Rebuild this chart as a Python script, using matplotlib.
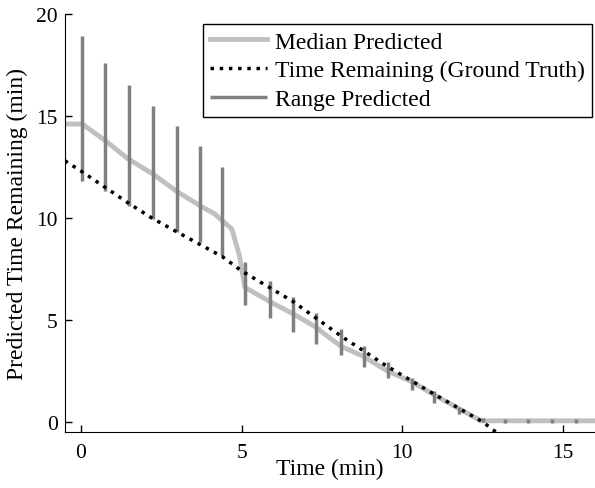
import matplotlib
matplotlib.use("Agg")
from matplotlib import pyplot as plt

# ground truth time remaining (min)
gt_t = [-0.5, 0.0, 0.75, 1.5, 2.2, 3.0, 3.7, 4.4, 5.0, 6.6, 8.1, 9.5, 11.0, 12.5, 13.0]
gt_v = [12.8, 12.3, 11.5, 10.7, 10.0, 9.3, 8.7, 8.1, 7.4, 5.9, 4.2, 2.75, 1.35, 0.0, -0.6]

# median predicted
med_t = [-0.5, 0.04, 0.75, 1.46, 2.24, 2.98, 3.7, 4.16, 4.7, 4.94, 5.1, 5.87, 6.6, 7.3,
         7.67, 8.1, 8.8, 9.53, 10.3, 11.05, 11.77, 12.45, 16.0]
med_v = [14.6, 14.6, 13.8, 12.9, 12.15, 11.3, 10.6, 10.2, 9.45, 8.1, 6.6, 5.9, 5.3, 4.65,
         4.2, 3.7, 3.2, 2.5, 1.96, 1.27, 0.64, 0.05, 0.05]

# range predicted (min / max)
rng_t = [0.03, 0.75, 1.49, 2.24, 2.98, 3.7, 4.4, 5.12, 5.87, 6.6, 7.33, 8.1, 8.8,
         9.55, 10.3, 11.0, 11.77, 12.5, 13.2, 13.93, 14.67, 15.4]
rng_hi = [18.9, 17.6, 16.5, 15.5, 14.5, 13.5, 12.5, 7.85, 6.9, 6.1, 5.35, 4.55, 3.7,
          2.95, 2.15, 1.5, 0.73, 0.2, 0.15, 0.15, 0.15, 0.15]
rng_lo = [11.8, 11.3, 10.6, 9.95, 9.3, 8.8, 8.15, 5.75, 5.1, 4.4, 3.8, 3.3, 2.7,
          2.15, 1.57, 0.93, 0.4, 0.0, -0.05, -0.05, -0.05, -0.05]

plt.rcParams['font.family'] = ['Liberation Serif', 'DejaVu Serif']

fig = plt.figure(figsize=(5.95, 4.89), dpi=100)
ax = fig.add_axes([0.109, 0.1145, 0.891, 0.855])

ax.plot(med_t, med_v, color='#c0c0c0', lw=3.5, label='Median Predicted', zorder=2)
ax.plot(gt_t, gt_v, color='black', lw=2.5, ls=':', label='Time Remaining (Ground Truth)', zorder=4)
ax.vlines(rng_t, rng_lo, rng_hi, color='#808080', lw=2.5, label='Range Predicted', zorder=3)

ax.set_xlim(-0.5, 16)
ax.set_ylim(-0.5, 20)
ax.set_xticks([0, 5, 10, 15])
ax.set_yticks([0, 5, 10, 15, 20])
ax.tick_params(direction='in', length=5, width=1, labelsize=15.5)
ax.tick_params(axis='x', pad=8)
ax.tick_params(axis='y', pad=5)
ax.spines['top'].set_visible(False)
ax.spines['right'].set_visible(False)
ax.set_xlabel('Time (min)', fontsize=17, labelpad=-3)
ax.set_ylabel('Predicted Time Remaining (min)', fontsize=17, labelpad=6)

leg = ax.legend(loc='upper right', bbox_to_anchor=(0.994, 0.976), fontsize=17,
                handlelength=2.4, handletextpad=0.35, borderpad=0.3, labelspacing=0.3,
                borderaxespad=0, fancybox=False, framealpha=1, edgecolor='black')
leg.get_frame().set_linewidth(1)

fig.savefig('out.png', dpi=100)
